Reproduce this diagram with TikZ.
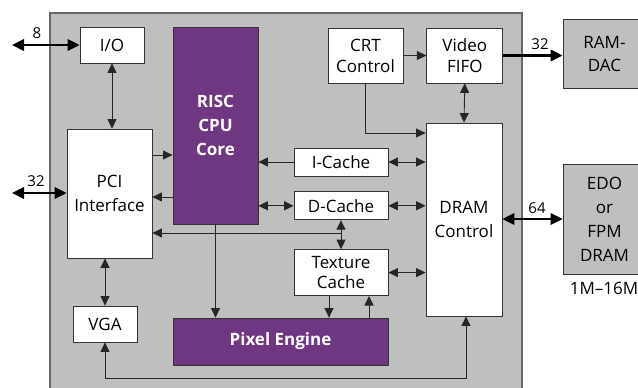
\documentclass[tikz,border=0pt]{standalone}
\usepackage{fontspec}
\setmainfont{Open Sans}
\usetikzlibrary{arrows.meta, positioning}
\definecolor{chipgray}{RGB}{191,191,191}
\definecolor{purp}{RGB}{111,54,129}
\begin{document}
\begin{tikzpicture}[x=1pt,y=-1pt,>={Triangle[length=9.5pt,width=9pt]},
 every node/.style={font=\fontsize{17}{24}\selectfont},
 blk/.style={draw=black!80,line width=.8pt,fill=white,align=center,inner sep=0pt},
 core/.style={blk,fill=purp,text=white,font=\fontsize{17}{24}\selectfont\bfseries},
 ext/.style={blk,fill=chipgray},
 bus/.style={line width=2.2pt,>={Triangle[length=12pt,width=11.5pt]}},
 wire/.style={line width=.9pt,black!85},
 num/.style={font=\fontsize{15}{16}\selectfont,inner sep=0pt}]
 \useasboundingbox (0,0) rectangle (638,388);
 \node[draw=black!60,line width=1.2pt,fill=chipgray,minimum width=472pt,minimum height=380pt,inner sep=0pt] (chip) at (286,203) {};
 % blocks on the chip
 \node[blk,minimum width=64pt,minimum height=36pt] (io) at (112,45) {I/O};
 \node[core,minimum width=85pt,minimum height=197pt] (cpu) at (215.5,125.5) {RISC\\CPU\\Core};
 \node[blk,minimum width=85pt,minimum height=129pt] (pci) at (109.5,193.5) {PCI\\Interface};
 \node[blk,minimum width=94pt,minimum height=28pt] (ic) at (341,162) {I-Cache};
 \node[blk,minimum width=94pt,minimum height=28pt,below=15pt of ic] (dc) {D-Cache};
 \node[blk,minimum width=94pt,minimum height=46pt,below=29pt of dc,
  font=\fontsize{17}{20.5}\selectfont] (tex) {Texture\\Cache};
 \node[blk,minimum width=76pt,minimum height=193pt] (dram) at (464,219.5) {DRAM\\Control};
 \node[blk,minimum width=75pt,minimum height=55pt,
  font=\fontsize{17}{21}\selectfont] (crt) at (365.5,55.5) {CRT\\Control};
 \node[blk,minimum width=76pt,minimum height=55pt,right=23pt of crt,
  font=\fontsize{17}{21}\selectfont] (vf) {Video\\FIFO};
 \node[core,minimum width=215pt,minimum height=47pt] (pix) at (280.5,341.5) {Pixel Engine};
 \node[blk,minimum width=64pt,minimum height=36pt] (vga) at (105,324) {VGA};
 % off-chip parts
 \node[ext,minimum width=83pt,minimum height=69pt,font=\fontsize{17}{23}\selectfont] (rd) at (604.5,53.5) {RAM-\\DAC};
 \node[ext,minimum width=83pt,minimum height=110pt] (edo) at (604.5,219) {EDO\\or\\FPM\\DRAM};
 \node[inner sep=0pt] (sz) at (604,288) {1M–16M};
 \coordinate (ioext) at (12,45);
 \coordinate (pciext) at (12,193);
 % external buses
 \draw[bus,<->] (ioext) -- (io.west);
 \draw[bus,<->] (pciext) -- (pci.west |- pciext);
 \draw[bus,->] (vf.east) -- (vf.east -| rd.west);
 \draw[bus,<->] (dram.east |- edo.west) -- (edo.west);
 \node[num] (n8) at (37,33) {8};
 \node[num] (n32a) at (36,181) {32};
 \node[num] (n32b) at (540,44) {32};
 \node[num] (n64) at (537,208) {64};
 % internal wiring
 \draw[wire,<->] (io.south) -- (io.south |- pci.north);
 \draw[wire,->] (pci.east |- 0,155) -- (cpu.west |- 0,155);
 \draw[wire,->] (cpu.west |- 0,197) -- (pci.east |- 0,197);
 \draw[wire,->] (ic.west) -- (ic.west -| cpu.east);
 \draw[wire,<->] (cpu.east |- dc.west) -- (dc.west);
 \draw[wire,<->] (dc.south) -- (tex.north);
 \draw[wire,->] (dc.south |- 0,233) -- (pci.east |- 0,233);
 \draw[wire,<->] (ic.east) -- (ic.east -| dram.west);
 \draw[wire,<->] (dc.east) -- (dc.east -| dram.west);
 \draw[wire,<->] (tex.east) -- (tex.east -| dram.west);
 \draw[wire,->] (crt.east) -- (vf.west);
 \draw[wire,->] (crt.south) |- (dram.west |- 0,133);
 \draw[wire,<->] (vf.south) -- (dram.north);
 \draw[wire,->] (cpu.south) -- (cpu.south |- pix.north);
 \draw[wire,->] ([xshift=-12pt]tex.south) -- ([xshift=-12pt]tex.south |- pix.north);
 \draw[wire,<-] ([xshift=28pt]tex.south) -- ([xshift=28pt]tex.south |- pix.north);
 \draw[wire,<->] (pci.south -| vga.north) -- (vga.north);
 \draw[wire,<->] (vga.south) -- (vga.south |- 0,378) -| ([xshift=2pt]dram.south);
\end{tikzpicture}
\end{document}
